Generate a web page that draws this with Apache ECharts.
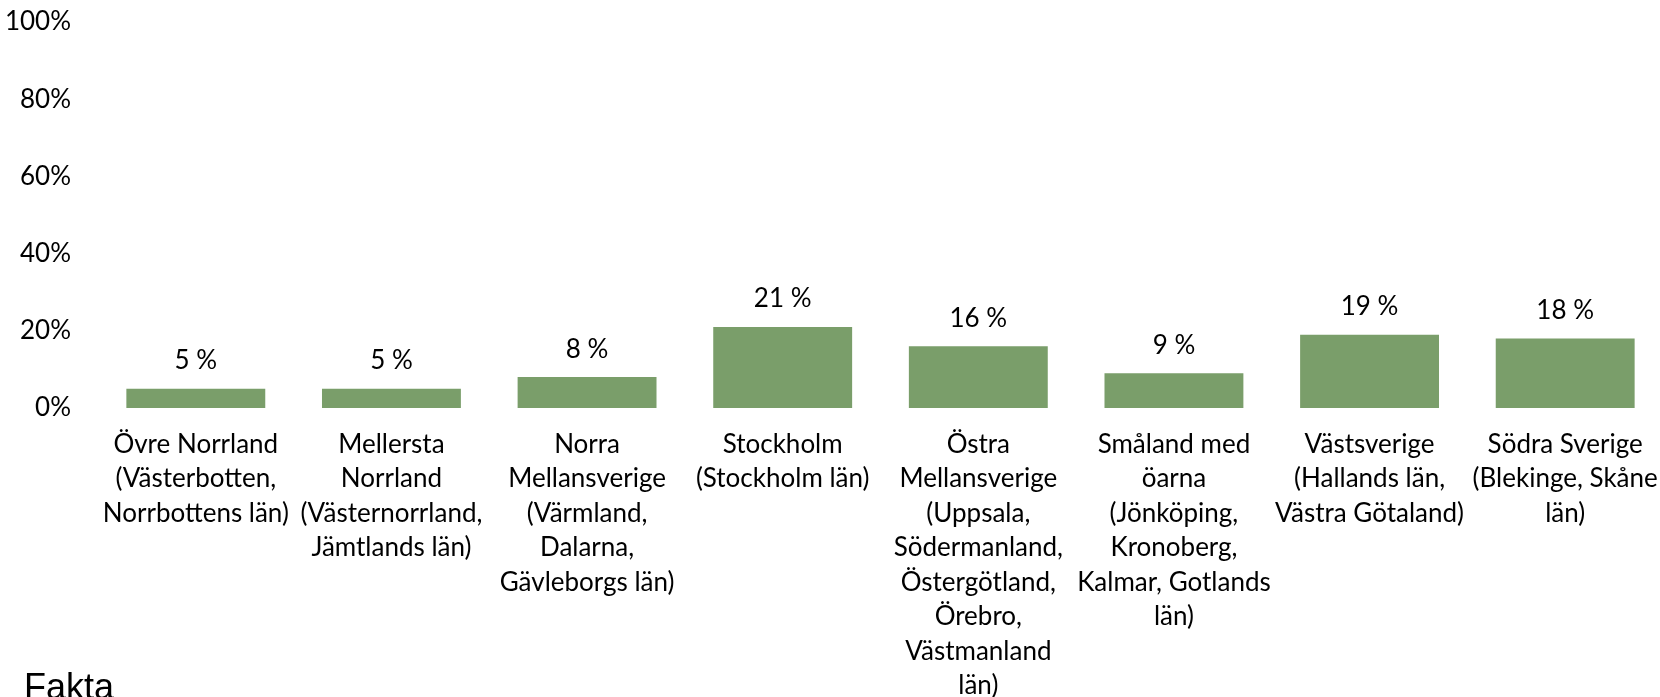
<!DOCTYPE html>
<html>
<head>
<meta charset="utf-8">
<script src="https://cdn.jsdelivr.net/npm/echarts@6/dist/echarts.min.js"></script>
<style>
html,body{margin:0;padding:0;background:#fff;}
#chart{width:1660px;height:697px;}
</style>
</head>
<body>
<div id="chart"></div>
<script>
var categories = [
  "Övre Norrland\n(Västerbotten,\nNorrbottens län)",
  "Mellersta\nNorrland\n(Västernorrland,\nJämtlands län)",
  "Norra\nMellansverige\n(Värmland,\nDalarna,\nGävleborgs län)",
  "Stockholm\n(Stockholm län)",
  "Östra\nMellansverige\n(Uppsala,\nSödermanland,\nÖstergötland,\nÖrebro,\nVästmanland\nlän)",
  "Småland med\nöarna\n(Jönköping,\nKronoberg,\nKalmar, Gotlands\nlän)",
  "Västsverige\n(Hallands län,\nVästra Götaland)",
  "Södra Sverige\n(Blekinge, Skåne\nlän)"
];
var values = [5, 5, 8, 21, 16, 9, 19, 18];
var yTicks = [0, 20, 40, 60, 80, 100];
var title = "Fakta";

var FONT = "Lato";
var chart = echarts.init(document.getElementById('chart'), null, {renderer: 'canvas'});
chart.setOption({
  animation: false,
  backgroundColor: '#ffffff',
  grid: {left: 98, width: 1565, top: 22, height: 386, containLabel: false, outerBoundsMode: 'none'},
  xAxis: {
    type: 'category',
    data: categories,
    axisLine: {show: false},
    axisTick: {show: false},
    axisLabel: {
      interval: 0,
      margin: 19,
      color: '#000',
      fontFamily: FONT,
      fontSize: 26,
      lineHeight: 34.5,
      align: 'center',
      verticalAlign: 'top',
      hideOverlap: false
    }
  },
  yAxis: {
    type: 'value',
    min: yTicks[0],
    max: yTicks[yTicks.length - 1],
    interval: 20,
    axisLine: {show: false},
    axisTick: {show: false},
    splitLine: {show: false},
    axisLabel: {
      margin: 27,
      color: '#000',
      fontFamily: FONT,
      fontSize: 26,
      formatter: function (v) { return v + '%'; }
    }
  },
  series: [{
    type: 'bar',
    data: values,
    barCategoryGap: '29%',
    itemStyle: {color: '#7A9E6A'},
    label: {
      show: true,
      position: 'top',
      distance: 15,
      color: '#000',
      fontFamily: FONT,
      fontSize: 26,
      formatter: function (p) { return p.value + ' %'; }
    }
  }],
  graphic: [{
    type: 'text',
    left: 24,
    top: 671,
    style: {
      text: title,
      fontFamily: 'Liberation Sans',
      fontSize: 36,
      fill: '#000'
    }
  }]
});
</script>
</body>
</html>
